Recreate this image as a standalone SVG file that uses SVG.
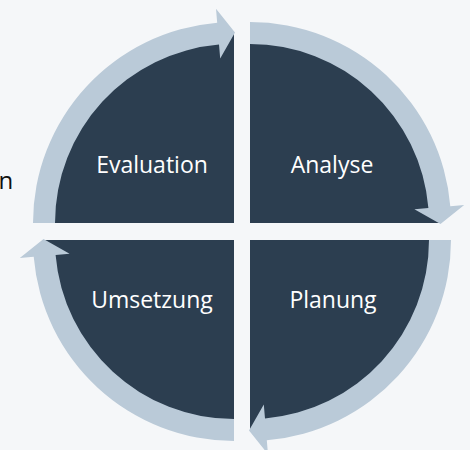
<svg xmlns="http://www.w3.org/2000/svg" xmlns:xlink="http://www.w3.org/1999/xlink" width="470" height="450" viewBox="0 0 470 450">
  <style>
    .bg { fill: #f5f7f9; }
    .sector { fill: #2c3e50; }
    .band { fill: #bacad8; }
    .label { font-family: "Open Sans", "Noto Sans", "Liberation Sans", sans-serif; font-size: 23px; font-weight: 400; fill: #ffffff; text-anchor: middle; }
    .side { font-family: "Open Sans", "Noto Sans", "Liberation Sans", sans-serif; font-size: 24px; font-weight: 400; fill: #111111; }
  </style>
  <defs>
    <!-- quarter disc, drawn for the upper-left quadrant around its inner corner -->
    <path id="quarter" d="M0,0 L-190,0 A190,190 0 0 1 0,-190 Z"/>
    <!-- curved arrow running from the left end round to the top, head pointing right -->
    <path id="arc-arrow" d="M-201,0 A201,201 0 0 1 -16.8,-200.3 L-18,-214.2 L1,-190.5 L-13.8,-164.4 L-15,-178.4 A179,179 0 0 0 -179,0 Z"/>
  </defs>

  <rect class="bg" x="0" y="0" width="470" height="450"/>

  <text class="side" x="-1.5" y="189">n</text>

  <g id="evaluation">
    <use xlink:href="#quarter" class="sector" transform="translate(234,223)"/>
    <text class="label" x="152" y="173">Evaluation</text>
  </g>
  <g id="analyse">
    <use xlink:href="#quarter" class="sector" transform="translate(250,223) rotate(90)"/>
    <text class="label" x="332" y="173">Analyse</text>
  </g>
  <g id="planung">
    <use xlink:href="#quarter" class="sector" transform="translate(250,240) rotate(180)"/>
    <text class="label" x="333" y="308">Planung</text>
  </g>
  <g id="umsetzung">
    <use xlink:href="#quarter" class="sector" transform="translate(234,240) rotate(270)"/>
    <text class="label" x="152" y="308">Umsetzung</text>
  </g>

  <g id="connectors">
    <use xlink:href="#arc-arrow" class="band" transform="translate(234,223)"/>
    <use xlink:href="#arc-arrow" class="band" transform="translate(250,223) rotate(90)"/>
    <use xlink:href="#arc-arrow" class="band" transform="translate(250,240) rotate(180)"/>
    <use xlink:href="#arc-arrow" class="band" transform="translate(234,240) rotate(270)"/>
  </g>
</svg>
